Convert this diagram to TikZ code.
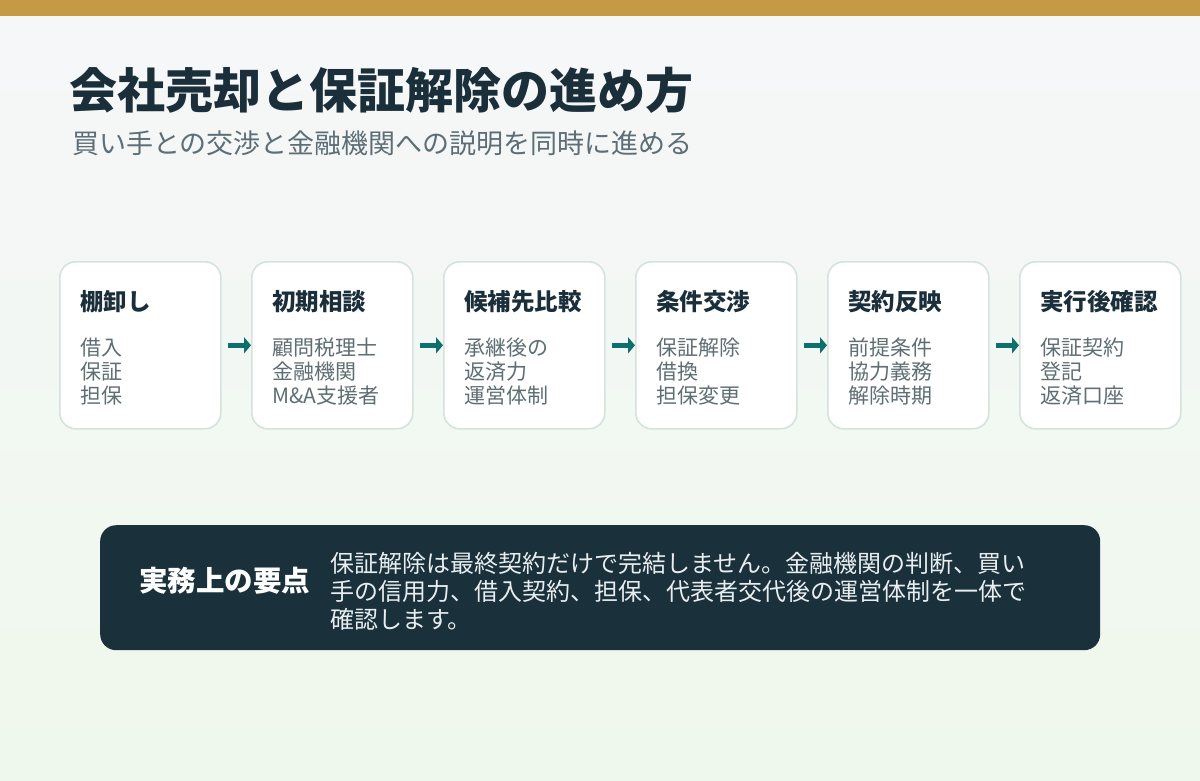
\documentclass[tikz,border=0pt]{standalone}
\usepackage{fontspec}
\setmainfont{Noto Sans CJK JP}
\usetikzlibrary{arrows.meta}
\definecolor{barc}{HTML}{C49A45}
\definecolor{ink}{HTML}{1B2F3A}
\definecolor{subc}{HTML}{5D6E76}
\definecolor{bodyc}{HTML}{5F6E73}
\definecolor{bordc}{HTML}{D5E3DF}
\definecolor{arrc}{HTML}{0E6F6F}
\definecolor{darkc}{HTML}{1A303B}
\definecolor{lightc}{HTML}{E8EEF0}
\definecolor{bgtop}{HTML}{F6F7F9}
\definecolor{bgbot}{HTML}{EFF8EC}
\tikzset{
  card/.style={draw=bordc, line width=1.6pt, fill=white, rounded corners=16pt,
    minimum width=161pt, minimum height=167pt, inner sep=0pt, anchor=north west},
  cardtitle/.style={anchor=base west, inner sep=0pt, text=ink, font=\fontsize{23.5}{26}\selectfont\bfseries},
  cardbody/.style={anchor=base west, inner sep=0pt, text=bodyc, font=\fontsize{21}{24}\selectfont},
  flow/.style={draw=arrc, line width=5.5pt, -{Triangle[length=7pt,width=16pt]}, shorten <=6pt},
  notebody/.style={anchor=base west, inner sep=0pt, text=lightc, font=\fontsize{24}{28}\selectfont},
}
\begin{document}
\begin{tikzpicture}[x=1pt,y=-1pt]
\useasboundingbox (0,0) rectangle (1200,780);
\shade[top color=bgtop, bottom color=bgbot] (0,0) rectangle (1200,780);
\fill[barc] (0,0) rectangle (1200,16);
\node[anchor=base west, inner sep=0pt, text=ink, font=\fontsize{48}{52}\selectfont\bfseries] (title) at (69,108) {会社売却と保証解除の進め方};
\node[anchor=base west, inner sep=0pt, text=subc, font=\fontsize{27}{30}\selectfont] (subtitle) at (72,153) {買い手との交渉と金融機関への説明を同時に進める};
% cards
\foreach \i/\t/\a/\b/\c in {1/棚卸し/借入/保証/担保,
  2/初期相談/顧問税理士/金融機関/M\&A支援者,
  3/候補先比較/承継後の/返済力/運営体制,
  4/条件交渉/保証解除/借換/担保変更,
  5/契約反映/前提条件/協力義務/解除時期,
  6/実行後確認/保証契約/登記/返済口座}{
  \pgfmathsetmacro{\xl}{59+192*(\i-1)}
  \node[card] (c\i) at (\xl,261) {};
  \node[cardtitle] (t\i) at (\xl+21,310) {\t};
  \node[cardbody] (a\i) at (\xl+21,355) {\a};
  \node[cardbody] (b\i) at (\xl+21,379) {\b};
  \node[cardbody] (d\i) at (\xl+21,403) {\c};
}
\foreach \i [evaluate=\i as \j using int(\i+1)] in {1,...,5}{
  \draw[flow] (c\i.east) -- (c\j.west);
}
% note box
\node[fill=darkc, rounded corners=16pt, minimum width=1000pt, minimum height=125pt, inner sep=0pt, anchor=north west] (note) at (100,525) {};
\node[anchor=base west, inner sep=0pt, text=white, font=\fontsize{28.5}{32}\selectfont\bfseries] (notetitle) at (139,591) {実務上の要点};
\node[notebody] (n1) at (330,572) {保証解除は最終契約だけで完結しません。金融機関の判断、買い};
\node[notebody] (n2) at (330,600) {手の信用力、借入契約、担保、代表者交代後の運営体制を一体で};
\node[notebody] (n3) at (330,628) {確認します。};
\end{tikzpicture}
\end{document}
